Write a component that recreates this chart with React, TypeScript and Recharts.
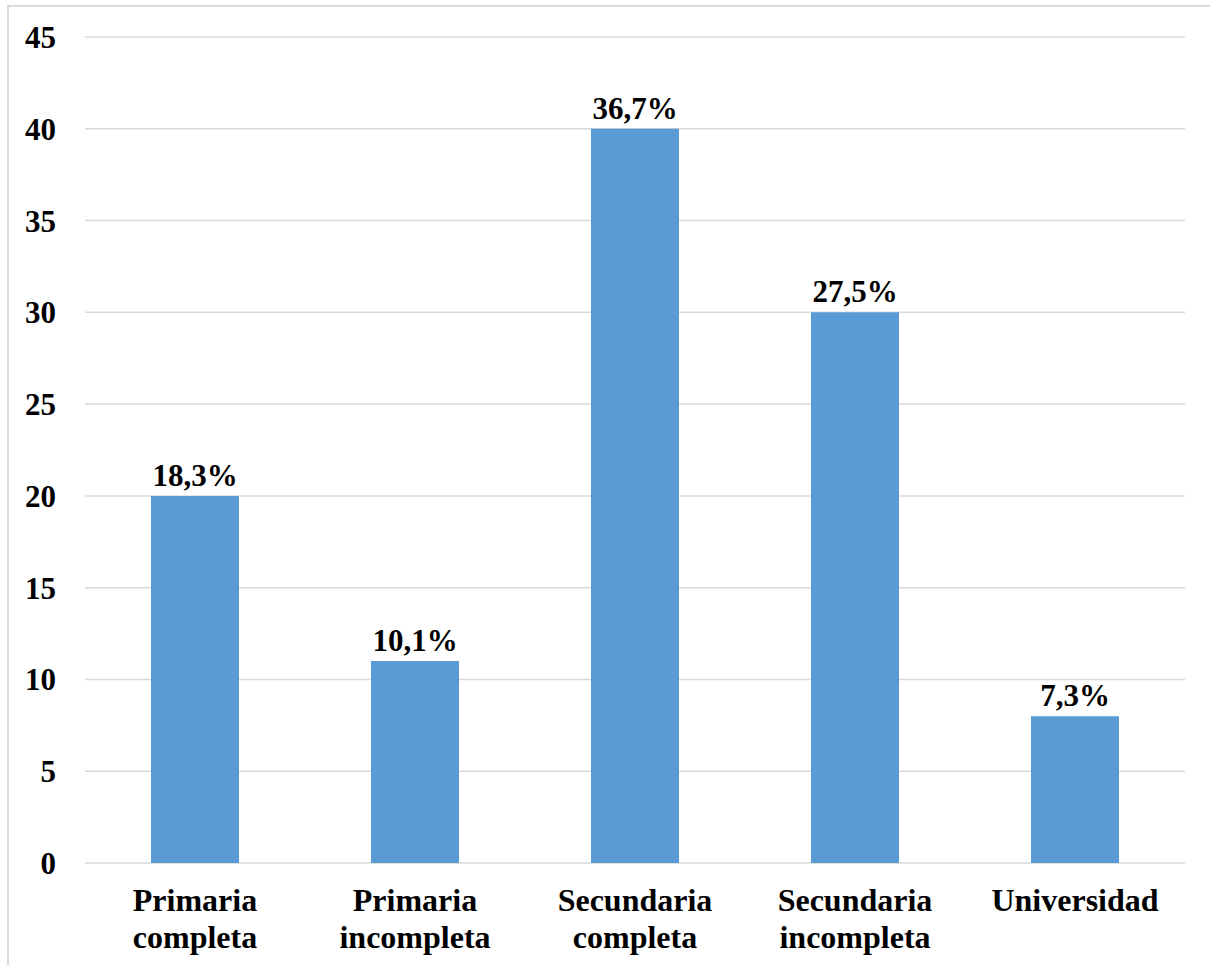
import React from "react";
import {
  BarChart,
  Bar,
  XAxis,
  YAxis,
  CartesianGrid,
  LabelList,
} from "recharts";

const categories = [
  "Primaria completa",
  "Primaria incompleta",
  "Secundaria completa",
  "Secundaria incompleta",
  "Universidad",
];
const values = [20, 11, 40, 30, 8];
const percentLabels = ["18,3%", "10,1%", "36,7%", "27,5%", "7,3%"];
const yTicks = [0, 5, 10, 15, 20, 25, 30, 35, 40, 45];

const chartData = categories.map((name, i) => ({
  name,
  value: values[i],
  label: percentLabels[i],
}));

const FONT = '"Liberation Serif", "Times New Roman", serif';

function CategoryTick(props: any) {
  const { x, y, payload } = props;
  const words = String(payload.value).split(" ");
  return (
    <text
      x={x}
      y={y}
      textAnchor="middle"
      fontFamily={FONT}
      fontWeight="bold"
      fontSize={32}
      fill="#000"
    >
      {words.map((w: string, i: number) => (
        <tspan key={w} x={x} y={y + 48 + i * 37}>
          {w}
        </tspan>
      ))}
    </text>
  );
}

export default function App() {
  return (
    <div
      style={{
        position: "absolute",
        left: 0,
        top: 0,
        width: 1210,
        height: 965,
        background: "#fff",
        overflow: "hidden",
      }}
    >
      <div
        style={{
          position: "absolute",
          left: 7,
          top: 5,
          width: 1210,
          height: 965,
          borderLeft: "2px solid #d9d9d9",
          borderTop: "2px solid #d9d9d9",
        }}
      />
      <div style={{ position: "absolute", left: 0, top: 0 }}>
        <BarChart
          width={1210}
          height={965}
          data={chartData}
          margin={{ top: 37, right: 25, left: 0, bottom: 2 }}
          barCategoryGap="30%"
        >
          <CartesianGrid vertical={false} stroke="#d9d9d9" strokeWidth={1.5} />
          <XAxis
            dataKey="name"
            height={100}
            axisLine={false}
            tickLine={false}
            tickSize={0}
            tickMargin={0}
            interval={0}
            tick={<CategoryTick />}
          />
          <YAxis
            width={85}
            domain={[0, 45]}
            ticks={yTicks}
            axisLine={false}
            tickLine={false}
            tickSize={0}
            tickMargin={29}
            tick={{ fontFamily: FONT, fontWeight: "bold", fontSize: 31, fill: "#000" }}
          />
          <Bar dataKey="value" fill="#5b9bd5" isAnimationActive={false}>
            <LabelList
              dataKey="label"
              position="top"
              offset={10}
              style={{ fontFamily: FONT, fontWeight: "bold", fontSize: 31, fill: "#000" }}
            />
          </Bar>
        </BarChart>
      </div>
    </div>
  );
}
